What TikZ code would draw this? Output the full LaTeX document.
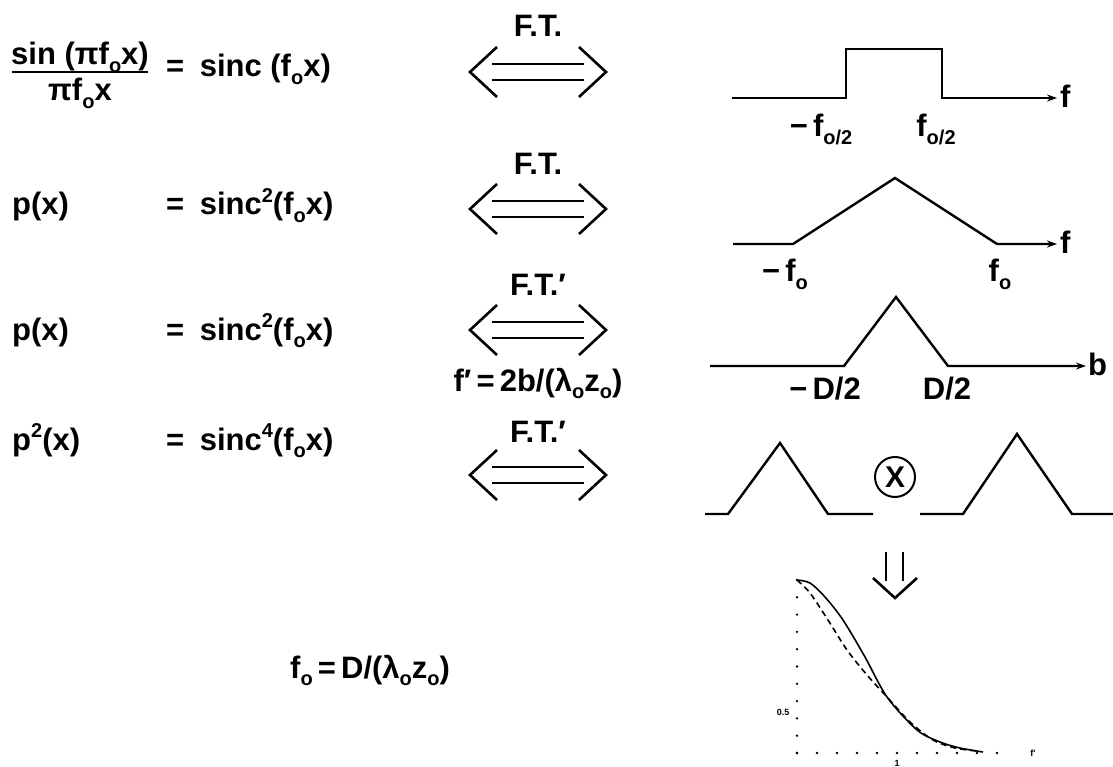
\documentclass[tikz,border=0pt]{standalone}
\usepackage{fontspec}
\setmainfont{Liberation Sans}
\usetikzlibrary{arrows.meta}

\newcommand\lo[1]{\raisebox{-0.45ex}{\fontsize{20}{21}\selectfont #1}}
\newcommand\hi[1]{\raisebox{0.75ex}{\fontsize{20}{21}\selectfont #1}}

\tikzset{
    lbl/.style={font=\fontsize{31}{36}\selectfont\bfseries, inner sep=0pt},
    tiny/.style={font=\fontsize{9}{9}\selectfont\bfseries, inner sep=0pt},
    sig/.style={line width=2.4pt, line join=miter},
    chev/.style={line width=2.6pt},
    ftarrow/.pic={
        \draw[chev] (-41,-25) -- (-68,0) -- (-41,25);
        \draw[chev] (41,-25) -- (68,0) -- (41,25);
        \draw[line width=1.8pt] (-46,-8) -- (46,-8);
        \draw[line width=1.8pt] (-46,8) -- (46,8);
    }
}

\begin{document}
\begin{tikzpicture}[x=1pt, y=-1pt, >={Stealth[length=10pt,width=7pt]}]
        % --- 1. Parameters ---
        \def\ftx{538}  % centre of the F.T. column
        \def\ax{797}   % plot origin x
        \def\ay{753}   % plot origin y
        \useasboundingbox (0,0) rectangle (1113,767);

        % --- 2. Left column: functions ---
        \node[lbl, anchor=base] (num) at (80,65) {sin (πf\lo{o}x)};
        \draw[line width=2pt] (12,72) -- (148,72);
        \node[lbl, anchor=base] (den) at (80,101) {πf\lo{o}x};
        \node[lbl, anchor=base west] (eq1) at (166,77) {=\hspace{0.5em}sinc (f\lo{o}x)};

        \node[lbl, anchor=base west] (p2) at (12,215) {p(x)};
        \node[lbl, anchor=base west] (eq2) at (166,215) {=\hspace{0.5em}sinc\hi{2}(f\lo{o}x)};

        \node[lbl, anchor=base west] (p3) at (12,340) {p(x)};
        \node[lbl, anchor=base west] (eq3) at (166,340) {=\hspace{0.5em}sinc\hi{2}(f\lo{o}x)};

        \node[lbl, anchor=base west] (p4) at (12,450) {p\hi{2}(x)};
        \node[lbl, anchor=base west] (eq4) at (166,450) {=\hspace{0.5em}sinc\hi{4}(f\lo{o}x)};

        \node[lbl, anchor=base west] (fo) at (290,678) {f\lo{o}\,=\,D/(λ\lo{o}z\lo{o})};

        % --- 3. Transform arrows ---
        \node[lbl, anchor=base] (ft1) at (\ftx,37) {F.T.};
        \pic at (\ftx,72) {ftarrow};
        \node[lbl, anchor=base] (ft2) at (\ftx,175) {F.T.};
        \pic at (\ftx,209) {ftarrow};
        \node[lbl, anchor=base] (ft3) at (\ftx,295) {F.T.′};
        \pic at (\ftx,330) {ftarrow};
        \node[lbl, anchor=base] (scl) at (\ftx,391) {f′\,=\,2b/(λ\lo{o}z\lo{o})};
        \node[lbl, anchor=base] (ft4) at (\ftx,442) {F.T.′};
        \pic at (\ftx,475) {ftarrow};

        % --- 4. Right column: spectra ---
        % rect
        \draw[sig, ->] (732,98) -- (846,98) -- (846,49) -- (942,49) -- (942,98) -- (1057,98);
        \node[lbl, anchor=west] (f1) at (1060,96) {f};
        \node[lbl, anchor=north] (m1) at (821,114) {−\,f\lo{o/2}};
        \node[lbl, anchor=north] (p1) at (936,114) {f\lo{o/2}};

        % triangle, width 2f_o
        \draw[sig, ->] (733,244) -- (793,244) -- (895,178) -- (997,244) -- (1057,244);
        \node[lbl, anchor=west] (f2) at (1060,242) {f};
        \node[lbl, anchor=north] (m2) at (785,259) {−\,f\lo{o}};
        \node[lbl, anchor=north] (pp2) at (1000,259) {f\lo{o}};

        % triangle over b
        \draw[sig, ->] (710,366) -- (844,366) -- (896,297) -- (948,366) -- (1086,366);
        \node[lbl, anchor=west] (b3) at (1088,364) {b};
        \node[lbl, anchor=north] (m3) at (825,377) {−\,D/2};
        \node[lbl, anchor=north] (pp3) at (947,377) {D/2};

        % product of two triangles
        \draw[sig] (705,514) -- (728,514) -- (780,443) -- (828,514) -- (873,514);
        \node[draw, circle, line width=2pt, minimum size=40pt, inner sep=0pt,
              font=\fontsize{30}{30}\selectfont\bfseries] (ox) at (895,477) {X};
        \draw[sig] (920,514) -- (963,514) -- (1017,434) -- (1072,514) -- (1113,514);

        % --- 5. Result ---
        \draw[line width=2.4pt] (886,552) -- (886,581);
        \draw[line width=2.4pt] (903,552) -- (903,581);
        \draw[chev] (873,578) -- (895,598) -- (917,578);

        \foreach \i in {0,...,10}
            \fill ({\ax+20*\i},\ay) circle (1.3pt);
        \foreach \i in {0,...,10}
            \fill (\ax,{580+17.3*\i}) circle (1.3pt);
        \node[tiny] (yl) at (783,712) {0.5};
        \node[tiny] (xl) at (897,763) {1};
        \node[tiny] (xa) at (1033,753) {f′};

        \draw[line width=1.6pt] plot[smooth] coordinates {(797,580) (810,583) (825,597) (843,620)
            (865,657) (887,697) (917,730) (940,742) (960,748) (983,752)};
        \draw[line width=1.6pt, dash pattern=on 6pt off 4pt] plot[smooth] coordinates {(797,580)
            (810,593) (828,620) (847,650) (867,675) (887,697) (910,722) (933,740) (955,748) (977,751)};
\end{tikzpicture}
\end{document}
